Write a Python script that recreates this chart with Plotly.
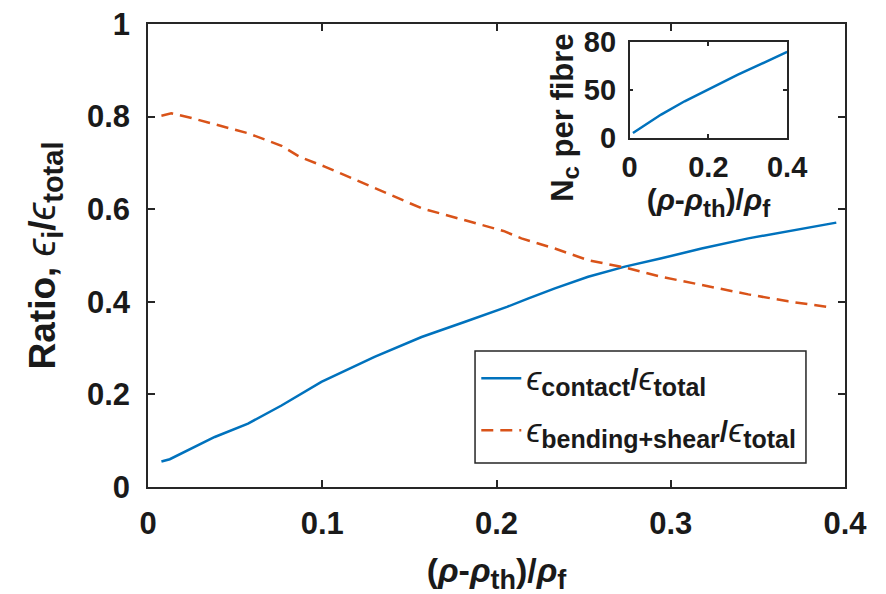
import plotly.graph_objects as go

# ---- data ----
contact_x = [0.0077, 0.0125, 0.0383, 0.0574, 0.0766, 0.0995, 0.130, 0.157, 0.182,
             0.206, 0.218, 0.2335, 0.2526, 0.2737, 0.2947, 0.3177, 0.3445, 0.3674, 0.395]
contact_y = [0.055, 0.060, 0.108, 0.137, 0.176, 0.227, 0.281, 0.324, 0.357,
             0.389, 0.407, 0.429, 0.454, 0.476, 0.494, 0.515, 0.537, 0.553, 0.571]

bend_x = [0.0077, 0.0134, 0.0250, 0.0383, 0.0574, 0.0766, 0.0871, 0.1014, 0.130, 0.157,
          0.182, 0.204, 0.2143, 0.2335, 0.2526, 0.2737, 0.2947, 0.3177, 0.3445, 0.3674, 0.3895]
bend_y = [0.802, 0.807, 0.797, 0.783, 0.764, 0.737, 0.713, 0.692, 0.645, 0.602,
          0.576, 0.553, 0.537, 0.515, 0.490, 0.474, 0.454, 0.436, 0.416, 0.401, 0.389]

inset_x = [0.0084, 0.080, 0.1396, 0.207, 0.275, 0.343, 0.400]
inset_y = [5.2, 24.4, 38.3, 52.2, 66.2, 79.1, 89.9]

main_xticks = [0, 0.1, 0.2, 0.3, 0.4]
main_yticks = [0, 0.2, 0.4, 0.6, 0.8, 1]
inset_xticks = [0, 0.2, 0.4]
inset_yticks = [0, 50, 100]
inset_yticklabels = ["0", "50", "80"]

BLUE = "#0072BD"
ORANGE = "#D95319"
AX = "#262626"
TXT = "#1a1a1a"
FONT = "Liberation Sans, Arial, sans-serif"


def eps(size):
    return f'<span style="font-weight:normal;font-size:{size}px"><i>ϵ</i></span>'


def sub(text, size):
    return f'<sub><span style="font-size:{size}px">{text}</span></sub>'


def rho_title(sub_size):
    return f"(<i>ρ</i>-<i>ρ</i>{sub('th', sub_size)})/<i>ρ</i>{sub('f', sub_size)}"


fig = go.Figure()
fig.add_trace(go.Scatter(
    x=contact_x, y=contact_y, mode="lines",
    line=dict(color=BLUE, width=2.5), legendgroup="a",
    name=f"{eps(34)}{sub('contact', 25)}/{eps(34)}{sub('total', 25)}",
))
fig.add_trace(go.Scatter(
    x=bend_x, y=bend_y, mode="lines",
    line=dict(color=ORANGE, width=2.5, dash="12px,7px"), legendgroup="b",
    name=f"{eps(34)}{sub('bending+shear', 25)}/{eps(34)}{sub('total', 25)}",
))
fig.add_trace(go.Scatter(
    x=inset_x, y=inset_y, mode="lines",
    line=dict(color=BLUE, width=2.5),
    xaxis="x2", yaxis="y2", showlegend=False,
))

axis_common = dict(
    showline=True, linecolor=AX, linewidth=1.5, mirror="ticks",
    ticks="inside", tickcolor=AX, tickwidth=1.5,
    showgrid=False, zeroline=False, automargin=False,
    ticklabeloverflow="allow",
)

fig.update_layout(
    width=886, height=594, autosize=False,
    margin=dict(l=140, r=49, t=16, b=115),
    paper_bgcolor="white", plot_bgcolor="white",
    font=dict(family=FONT, color=TXT, weight="bold"),
    xaxis=dict(
        range=[0, 0.4], tickvals=main_xticks, ticklen=7,
        tickfont=dict(size=31, family=FONT, weight="bold", color=TXT),
        ticklabelstandoff=8,
        title=dict(text=rho_title(27),
                   font=dict(size=34, family=FONT, weight="bold"), standoff=18),
        **axis_common,
    ),
    yaxis=dict(
        range=[0, 1], tickvals=main_yticks, ticklen=7,
        tickfont=dict(size=31, family=FONT, weight="bold", color=TXT),
        ticklabelstandoff=10,
        title=dict(text=f"Ratio, {eps(40)}{sub('i', 29)}/{eps(40)}{sub('total', 29)}",
                   font=dict(size=37, family=FONT, weight="bold"), standoff=20),
        **axis_common,
    ),
    xaxis2=dict(
        domain=[0.691, 0.917], anchor="y2", range=[0, 0.4], tickvals=inset_xticks,
        ticklen=4,
        tickfont=dict(size=29, family=FONT, weight="bold", color=TXT),
        ticklabelstandoff=3,
        title=dict(text=rho_title(24),
                   font=dict(size=30, family=FONT, weight="bold"), standoff=0),
        **axis_common,
    ),
    yaxis2=dict(
        domain=[0.754, 0.9605], anchor="x2", range=[0, 100], tickvals=inset_yticks,
        ticktext=inset_yticklabels, ticklen=4,
        tickfont=dict(size=29, family=FONT, weight="bold", color=TXT),
        ticklabelstandoff=6,
        **axis_common,
    ),
    annotations=[dict(
        text=f"N{sub('c', 24)} per fibre", textangle=-90,
        xref="paper", yref="paper", x=0.598, y=0.797,
        xanchor="center", yanchor="middle", showarrow=False,
        font=dict(size=31, family=FONT, weight="bold", color=TXT),
    )],
    legend=dict(
        x=0.471, y=0.291, xanchor="left", yanchor="top",
        borderwidth=0, bgcolor="rgba(0,0,0,0)",
        font=dict(size=30, family=FONT, weight="bold", color=TXT),
        itemwidth=40, tracegroupgap=10,
    ),
    showlegend=True,
    shapes=[dict(
        type="rect", xref="paper", yref="paper",
        x0=0.4692, x1=0.944, y0=0.0518, y1=0.2937,
        line=dict(color=AX, width=1.5), fillcolor="white", layer="above",
    )],
)

fig.write_html("out.html")
